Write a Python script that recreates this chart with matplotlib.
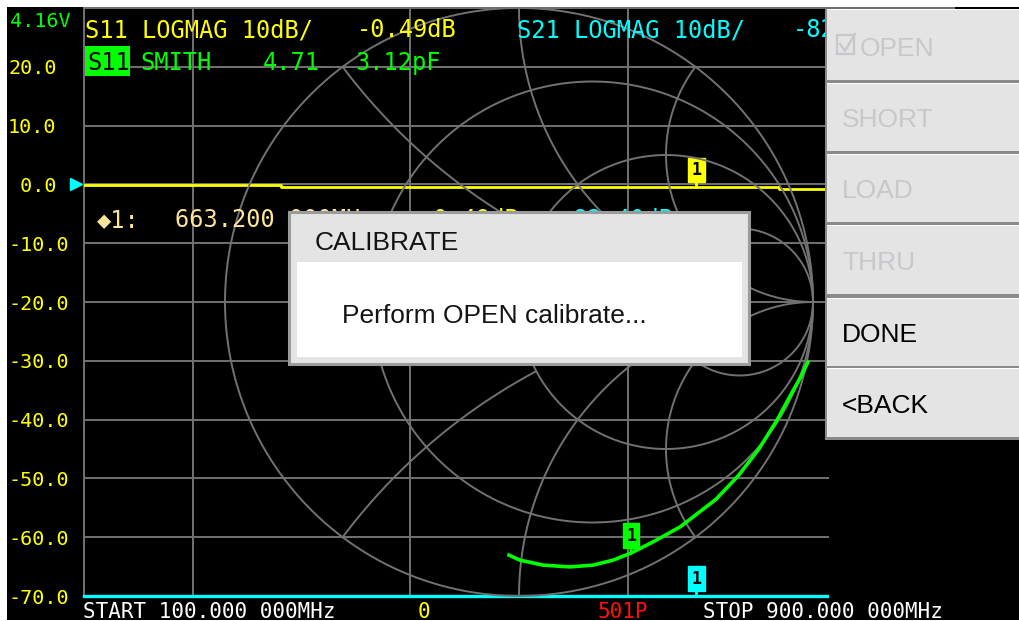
import numpy as np
import matplotlib
matplotlib.use("Agg")
import matplotlib.pyplot as plt
from matplotlib.patches import Rectangle
from matplotlib.transforms import (blended_transform_factory, ScaledTranslation,
                                   Bbox, TransformedBbox)

# ---------------- data ----------------
start_mhz, stop_mhz = 100.0, 900.0
sweep_points = 501
marker_mhz = 663.2
battery = "4.16V"

# S11 LOGMAG trace (dB) (stepped)
s11_freq = [100, 281, 739, 900]
s11_db = [-0.05, -0.49, -0.85, -0.85]

# S21 LOGMAG trace (dB) - below the bottom of the scale, so it sits on -70
s21_freq = [100, 500, 900]
s21_db = [-82.2, -82.4, -82.4]

# S11 SMITH trace (reflection coefficient)
s11_re = [0.983, 0.956, 0.922, 0.878, 0.816, 0.745, 0.670, 0.548, 0.456,
          0.381, 0.320, 0.252, 0.173, 0.082, 0.003, -0.034]
s11_im = [-0.204, -0.259, -0.320, -0.401, -0.500, -0.592, -0.671, -0.765, -0.816,
          -0.854, -0.878, -0.895, -0.901, -0.895, -0.878, -0.861]
marker_idx = 9

y_ticks = [20, 10, 0, -10, -20, -30, -40, -50, -60, -70]
x_grid = [200, 400, 600, 800]
y_top, y_bottom = 30, -70

menu_items = ["OPEN", "SHORT", "LOAD", "THRU", "DONE", "<BACK"]
menu_enabled = [False, False, False, False, True, True]

# ---------------- layout ----------------
W, H, DPI = 1019, 621, 100
AX_L, AX_R, AX_T, AX_B = 84, 954, 8, 596
MENU_X = 826
GRID = "#727272"
YEL, CYN, GRN = "#ffff00", "#00ffff", "#00ff00"
PALE = "#ffe59a"
MONO = "DejaVu Sans Mono"
SANS = "Liberation Sans"


def frac(x0, y0, x1, y1):
    return [x0 / W, 1 - y1 / H, (x1 - x0) / W, (y1 - y0) / H]


fig = plt.figure(figsize=(W / DPI, H / DPI), dpi=DPI, facecolor="white")

# screen background
bg = fig.add_axes([0, 0, 1, 1], zorder=0)
bg.set_xlim(0, W)
bg.set_ylim(H, 0)
bg.axis("off")
bg.add_patch(Rectangle((7, 7), W - 7, 613, fc="black", ec="none"))

# ---------------- rectangular (LOGMAG) axes ----------------
ax = fig.add_axes(frac(AX_L, AX_T, AX_R, AX_B), zorder=1)
ax.set_facecolor("none")
ax.set_xlim(start_mhz, stop_mhz)
ax.set_ylim(y_bottom, y_top)
ax.set_xticks(x_grid)
ax.set_yticks(y_ticks)
ax.set_yticklabels([f"{v:4.1f}" for v in y_ticks])
ax.tick_params(axis="x", length=0, labelbottom=False)
ax.tick_params(axis="y", length=0, pad=(AX_L - 8) * 72 / DPI,
               labelcolor=YEL, labelsize=14.5)
for lab in ax.get_yticklabels():
    lab.set_horizontalalignment("left")
    lab.set_fontfamily(MONO)
ax.grid(True, color=GRID, lw=1.4)
for sp in ax.spines.values():
    sp.set_color(GRID)
    sp.set_linewidth(1.4)

ax.plot(s11_freq, s11_db, color=YEL, lw=2.0, drawstyle="steps-post", zorder=4)
s21_shown = np.clip(np.array(s21_db), y_bottom, y_top)
ax.plot(s21_freq, s21_shown, color=CYN, lw=2.4, zorder=4, clip_on=False)

# reference-position mark on the left
tr = blended_transform_factory(ax.transAxes, ax.transData) + \
    ScaledTranslation(-8 / DPI, 0, fig.dpi_scale_trans)
ax.plot([0], [0.0], marker=">", ms=9, color=CYN, transform=tr, clip_on=False, zorder=5)


def flag(axis, x, y, color):
    axis.annotate("1", xy=(x, y), xytext=(0, 12.5), textcoords="offset points",
                  ha="center", va="center", fontsize=12, fontweight="bold",
                  family=MONO, color="black", zorder=6, annotation_clip=False,
                  bbox=dict(boxstyle="square,pad=0.2", fc=color, ec=color),
                  arrowprops=dict(arrowstyle="-", color=color, lw=2,
                                  shrinkA=0, shrinkB=0))


# marker values
k = int(np.searchsorted(s11_freq, marker_mhz, side="right")) - 1
m_s11 = s11_db[k]
m_s21_raw = float(np.interp(marker_mhz, s21_freq, s21_db))
m_s21 = float(np.clip(m_s21_raw, y_bottom, y_top))
flag(ax, marker_mhz, m_s11, YEL)
flag(ax, marker_mhz, m_s21, CYN)

# ---------------- Smith chart ----------------
cx_px = (AX_L + AX_R) / 2
R_px = (AX_B - AX_T) / 2
sx = fig.add_axes(frac(cx_px - R_px, AX_T, cx_px + R_px, AX_B), zorder=2)
sx.set_xlim(-1, 1)
sx.set_ylim(-1, 1)
sx.axis("off")
sx.patch.set_alpha(0)

t = np.linspace(0, 2 * np.pi, 4000)


def circ(cx, cy, r, keep=None):
    x = cx + r * np.cos(t)
    y = cy + r * np.sin(t)
    if keep is not None:
        m = keep(x, y)
        x = np.where(m, x, np.nan)
        y = np.where(m, y, np.nan)
    sx.plot(x, y, color=GRID, lw=1.4, clip_on=False, zorder=2)


def inside_unit(x, y):
    return x * x + y * y <= 1.0005


def outside(cx, cy, r):
    return lambda x, y: (x - cx) ** 2 + (y - cy) ** 2 >= r * r * 0.999


circ(0, 0, 1)
circ(0.25, 0, 0.75)
circ(0.5, 0, 0.5)
circ(0.75, 0, 0.25)
for s in (1, -1):
    circ(1, s * 0.5, 0.5, inside_unit)
    circ(1, s * 1.0, 1.0, lambda x, y: inside_unit(x, y) & outside(0.75, 0, 0.25)(x, y))
    circ(1, s * 2.0, 2.0, lambda x, y: inside_unit(x, y) & outside(0.5, 0, 0.5)(x, y))

sx.plot(s11_re, s11_im, color=GRN, lw=2.6, zorder=4)
flag(sx, s11_re[marker_idx], s11_im[marker_idx], GRN)

# ---------------- screen texts, menu, dialog ----------------
ui = fig.add_axes([0, 0, 1, 1], zorder=3)
ui.set_xlim(0, W)
ui.set_ylim(H, 0)
ui.axis("off")
ui.patch.set_alpha(0)
screen_clip = TransformedBbox(Bbox([[0, 0], [MENU_X, H]]), ui.transData)


def txt(x, y, s, color, size=17, family=MONO, z=2, **kw):
    return ui.text(x, y, s, color=color, fontsize=size, family=family, ha="left",
                   va="baseline", zorder=z, **kw)


txt(10, 27, battery, GRN, size=14.5)
txt(85, 37, "S11 LOGMAG 10dB/", YEL)
txt(357, 37, f"{m_s11:.2f}dB", YEL)
txt(517, 37, "S21 LOGMAG 10dB/", CYN)
# only the part left of the menu is visible on the screen
cut = txt(793, 37, f"{m_s21_raw:.2f}dB"[:3], CYN)
cut.set_clip_box(screen_clip)
cut.set_clip_on(True)
ui.add_patch(Rectangle((85, 46), 45, 30, fc=GRN, ec="none", zorder=1.5))
txt(87, 70, "S11", "black")
txt(140, 70, "SMITH", GRN)
txt(263, 70, "4.71", GRN)
txt(355, 70, "3.12pF", GRN)

# marker readout (partly hidden by the dialog)
ui.text(97, 227, "\u25c61:", color=PALE, fontsize=17, family=[MONO, "DejaVu Sans"],
        ha="left", va="baseline", zorder=2)
txt(175, 227, f"{marker_mhz:.3f} 000MHz", PALE)
txt(420, 227, f"{m_s11:.2f}dB", YEL)
txt(560, 227, f"{m_s21_raw:.2f}dB", CYN)

# black area below the menu (grid stops there)
ui.add_patch(Rectangle((829, 437), W - 829, 163, fc="black", ec="none", zorder=1))

# bottom status line
txt(83, 618, f"START {start_mhz:.3f} 000MHz", "white", size=15)
txt(418, 618, "0", YEL, size=15)
txt(598, 618, f"{sweep_points}P", "#ff1010", size=15)
txt(703, 618, f"STOP {stop_mhz:.3f} 000MHz", "white", size=15)

# menu
ui.add_patch(Rectangle((MENU_X - 1, 9), W - MENU_X + 1, 431, fc="#8a8a8a", ec="none", zorder=3))
btn = [(9, 80), (83, 151), (154, 222), (225, 294), (298, 366), (368, 437)]
DIS = "#c8c8cc"
for (y0, y1), label, en in zip(btn, menu_items, menu_enabled):
    ui.add_patch(Rectangle((MENU_X + 1, y0), W - MENU_X, y1 - y0, fc="#e4e4e4", ec="none", zorder=3.1))
    ui.add_patch(Rectangle((MENU_X + 1, y0), W - MENU_X, 1.2, fc="white", ec="none", zorder=3.2))
    col = "black" if en else DIS
    xoff = 860 if label == "OPEN" else 842
    ui.text(xoff, y1 - 24, label, color=col, fontsize=19, family=SANS,
            ha="left", va="baseline", zorder=3.5)
# check box icon of the OPEN item
ui.add_patch(Rectangle((837, 35), 17, 19, fc="none", ec=DIS, lw=1.6, zorder=3.5))
ui.plot([840, 845, 855], [44, 51, 34], color=DIS, lw=1.6, zorder=3.6)

# dialog
ui.add_patch(Rectangle((289, 212), 460, 152, fc="#e4e4e4", ec="#9b9b9b", lw=2.2, zorder=4))
ui.add_patch(Rectangle((297, 262), 445, 95, fc="white", ec="none", zorder=4.1))
ui.text(315, 250, "CALIBRATE", color="#141414", fontsize=19, family=SANS,
        ha="left", va="baseline", zorder=4.5)
ui.text(342, 323, "Perform OPEN calibrate...", color="#141414", fontsize=19,
        family=SANS, ha="left", va="baseline", zorder=4.5)

fig.savefig("out.png", dpi=DPI, facecolor="white")
